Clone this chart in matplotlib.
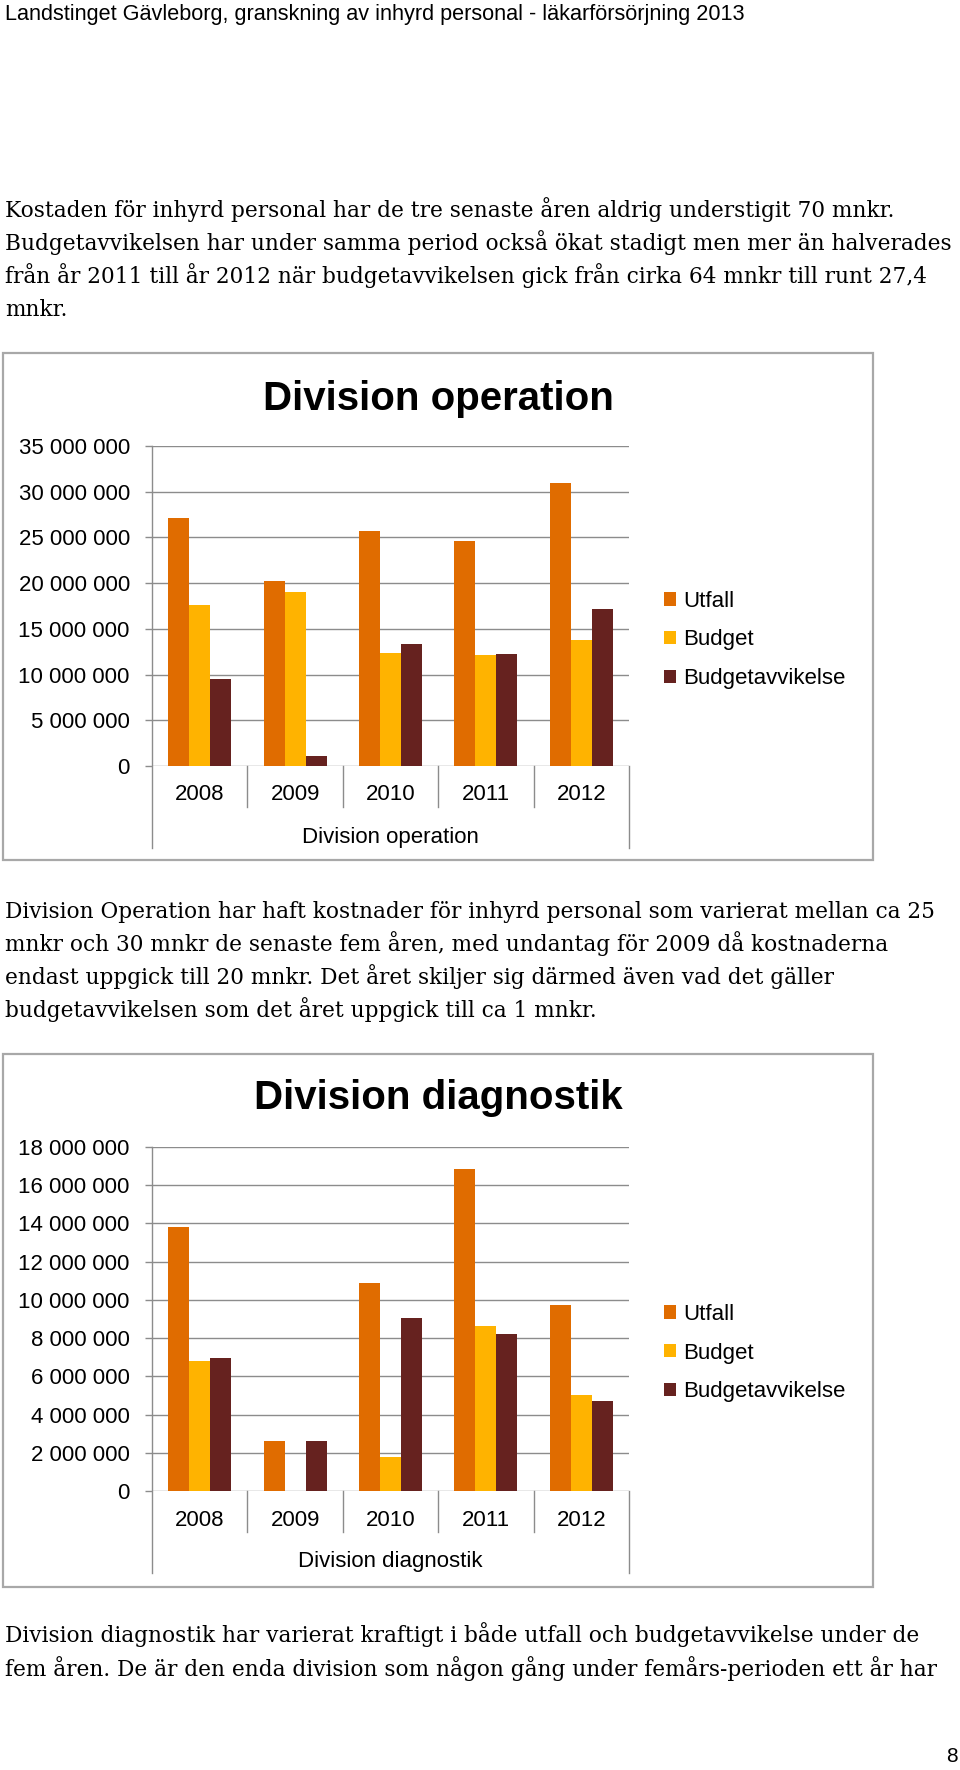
import matplotlib
matplotlib.use("Agg")
import matplotlib.pyplot as plt
from matplotlib.patches import Rectangle
from matplotlib.ticker import FuncFormatter, MultipleLocator

W, H = 960, 1770
DPI = 100

# ---------------- data ----------------
years = ["2008", "2009", "2010", "2011", "2012"]
series_names = ["Utfall", "Budget", "Budgetavvikelse"]

op_utfall = [27.1e6, 20.2e6, 25.7e6, 24.6e6, 31.0e6]
op_budget = [17.6e6, 19.05e6, 12.4e6, 12.15e6, 13.8e6]
op_avvik = [9.5e6, 1.1e6, 13.3e6, 12.3e6, 17.15e6]

diag_utfall = [13.8e6, 2.63e6, 10.88e6, 16.86e6, 9.75e6]
diag_budget = [6.8e6, 0.0, 1.8e6, 8.64e6, 5.0e6]
diag_avvik = [6.98e6, 2.63e6, 9.06e6, 8.2e6, 4.72e6]

header = "Landstinget Gävleborg, granskning av inhyrd personal - läkarförsörjning 2013"
para1 = [
    "Kostaden för inhyrd personal har de tre senaste åren aldrig understigit 70 mnkr.",
    "Budgetavvikelsen har under samma period också ökat stadigt men mer än halverades",
    "från år 2011 till år 2012 när budgetavvikelsen gick från cirka 64 mnkr till runt 27,4",
    "mnkr.",
]
para2 = [
    "Division Operation har haft kostnader för inhyrd personal som varierat mellan ca 25",
    "mnkr och 30 mnkr de senaste fem åren, med undantag för 2009 då kostnaderna",
    "endast uppgick till 20 mnkr. Det året skiljer sig därmed även vad det gäller",
    "budgetavvikelsen som det året uppgick till ca 1 mnkr.",
]
para3 = [
    "Division diagnostik har varierat kraftigt i både utfall och budgetavvikelse under de",
    "fem åren. De är den enda division som någon gång under femårs-perioden ett år har",
]
page_no = "8"

colors = ["#E06C00", "#FFB300", "#66221F"]
GRID = "#8C8C8C"
FRAME = "#A8A8A8"

plt.rcParams["font.family"] = ["Liberation Sans", "DejaVu Sans"]

fig = plt.figure(figsize=(W / DPI, H / DPI), dpi=DPI)
fig.patch.set_facecolor("white")


def fx(x):
    return x / W


def fy(y):
    return 1 - y / H


def fmt(v, _):
    return f"{v:,.0f}".replace(",", " ")


def chart(title, series, ymax, ystep, frame, axbox, title_y, legend_y):
    fx0, fy0, fx1, fy1 = frame
    fig.patches.append(Rectangle((fx(fx0), fy(fy1)), fx(fx1 - fx0), (fy1 - fy0) / H,
                                 transform=fig.transFigure, fill=False,
                                 edgecolor=FRAME, lw=1.6))
    fig.text(fx(438), fy(title_y), title, ha="center", va="baseline",
             fontsize=29, fontweight="bold", color="black")

    x0, y0, x1, y1 = axbox
    ax = fig.add_axes([fx(x0), fy(y1), fx(x1 - x0), (y1 - y0) / H])
    ah = y1 - y0
    ax.set_facecolor("none")
    xs = list(range(len(years)))
    bw = 0.22
    handles = []
    for k, (vals, c) in enumerate(zip(series, colors)):
        b = ax.bar([x + (k - 1) * bw for x in xs], vals, width=bw, color=c,
                   zorder=3, linewidth=0)
        handles.append(b)
    ax.set_xlim(-0.5, len(years) - 0.5)
    ax.set_ylim(0, ymax)
    ax.yaxis.set_major_locator(MultipleLocator(ystep))
    ax.yaxis.set_major_formatter(FuncFormatter(fmt))
    ax.grid(axis="y", color=GRID, lw=1.0, zorder=0)
    for s in ax.spines.values():
        s.set_visible(False)
    ax.tick_params(axis="y", length=5, width=1.0, color=GRID, pad=11,
                   labelsize=16, labelcolor="black")
    ax.set_xticks([])
    # year labels and category label
    for i, yl in enumerate(years):
        ax.text(i, -29 / ah, yl, transform=ax.get_xaxis_transform(),
                ha="center", va="center", fontsize=16, color="black")
    ax.text(0.5, -71 / ah, title, transform=ax.transAxes, ha="center",
            va="center", fontsize=16, color="black")
    # axis lines
    ax.plot([0, 0], [1, -82 / ah], transform=ax.transAxes, color=GRID,
            lw=1.0, clip_on=False, zorder=4)
    ax.plot([1, 1], [0, -82 / ah], transform=ax.transAxes, color=GRID,
            lw=1.0, clip_on=False, zorder=4)
    for k in range(1, len(years)):
        ax.plot([k - 0.5, k - 0.5], [0, -41 / ah],
                transform=ax.get_xaxis_transform(), color=GRID, lw=1.0,
                clip_on=False)
    ax.legend(handles, series_names, loc="center left",
              bbox_to_anchor=(fx(664), fy(legend_y)),
              bbox_transform=fig.transFigure, frameon=False, fontsize=16,
              handlelength=0.55, handleheight=0.55, handletextpad=0.3,
              labelspacing=0.8, borderpad=0, borderaxespad=0)
    return ax


chart("Division operation", [op_utfall, op_budget, op_avvik], 35e6, 5e6,
      (3, 353, 873, 860), (152, 446, 629, 766), 410, 640)
chart("Division diagnostik", [diag_utfall, diag_budget, diag_avvik], 18e6, 2e6,
      (3, 1054, 873, 1587), (152, 1147, 629, 1491), 1109, 1353)

# header
fig.text(fx(5), fy(20), header, ha="left", va="baseline", fontsize=15.6,
         color="black")
fig.text(fx(958), fy(1762), page_no, ha="right", va="baseline", fontsize=15,
         color="black")

# body text, sized to fit measured line width
renderer = fig.canvas.get_renderer()
probe = fig.text(0, 0, para1[1], fontsize=16, family="DejaVu Serif")
wpx = probe.get_window_extent(renderer=renderer).width
probe.remove()
body_size = 16 * 946 / wpx

for lines, baselines in [(para1, [217, 250, 283, 316]),
                         (para2, [918, 951, 984, 1017]),
                         (para3, [1642, 1676])]:
    for ln, b in zip(lines, baselines):
        fig.text(fx(5), fy(b), ln, ha="left", va="baseline",
                 fontsize=body_size, family="DejaVu Serif", color="black")

fig.savefig("out.png", dpi=DPI)
